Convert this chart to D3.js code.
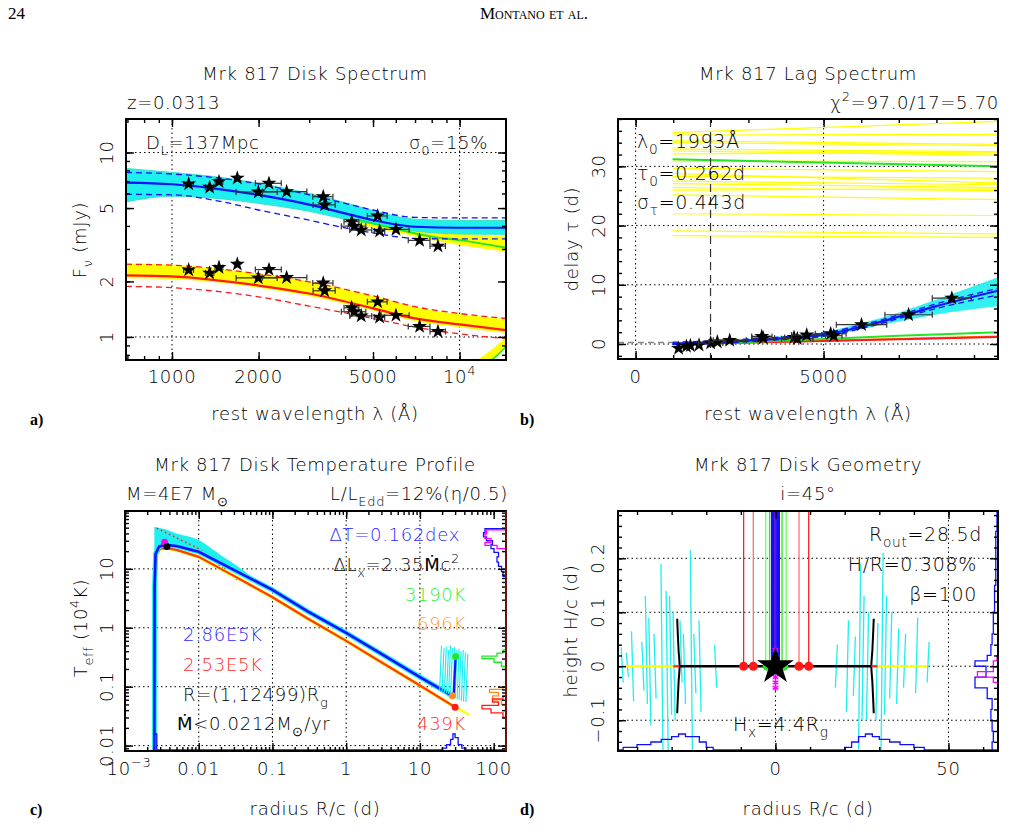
<!DOCTYPE html>
<html>
<head>
<meta charset="utf-8">
<script src="https://cdn.jsdelivr.net/npm/d3@7"></script>
<style>
  body { margin: 0; background: #fff; }
  text { font-family: "DejaVu Sans", sans-serif; font-weight: 300; letter-spacing: 0.7px; }
  text.serif { font-family: "Liberation Serif", "DejaVu Serif", serif; letter-spacing: 0; font-weight: normal; }
</style>
</head>
<body>
<script>

// ---- shared photometric bands (rest wavelength, Å) ----
const lam = [1143,1352,1457,1687,1996,2174,2504,3357,3394,4214,4300,4550,5188,5270,6008,7260,8410];
const lamErr = [45,45,45,30,325,225,440,270,300,250,420,400,410,220,670,630,520];

// ---- a) disk spectrum ----
const fluxTot = [6.76,6.48,6.95,7.26,6.11,6.81,6.14,5.76,5.20,4.22,3.99,3.80,4.53,3.75,3.83,3.34,3.11];
const fluxDisk = [2.31,2.22,2.38,2.48,2.09,2.32,2.10,1.96,1.78,1.44,1.37,1.30,1.55,1.28,1.31,1.14,1.07];
const fitTot = [[692,6.87],[1000,6.73],[1500,6.3],[2000,5.89],[3000,5.22],[4000,4.68],[5000,4.3],[7000,3.96],[10000,3.91],[14500,3.91]];
const fitTotHi = [[692,7.8],[1000,7.65],[2000,6.76],[3000,5.9],[4000,5.3],[5000,4.88],[7000,4.45],[10000,4.42],[14500,4.42]];
const fitTotLo = [[692,5.93],[1000,5.9],[1500,5.4],[2000,4.88],[3000,4.3],[4000,3.9],[5000,3.67],[7000,3.42],[10000,3.4],[14500,3.4]];
const cyanBandA = [[692,5.4,8.2],[1000,5.8,7.8],[1500,5.6,7.3],[2000,5.3,6.8],[3000,4.8,6.0],[4000,4.35,5.35],[5000,4.1,4.85],[7000,3.75,4.35],[10000,3.62,4.28],[14500,3.6,4.28]];
const yellowBandTot = [[4500,4.05,4.45],[6000,3.7,4.1],[8000,3.35,3.8],[10000,3.15,3.65],[14500,2.9,3.5]];
const greenTot = [[4500,4.3],[6000,3.85],[8000,3.5],[10000,3.35],[14500,3.05]];
const fitDisk = [[692,2.16],[1000,2.13],[2000,1.9],[3000,1.72],[5000,1.43],[7000,1.26],[10000,1.17],[14500,1.09]];
const fitDiskHi = [[692,2.48],[1000,2.45],[2000,2.2],[3000,1.99],[5000,1.67],[7000,1.46],[10000,1.34],[14500,1.26]];
const fitDiskLo = [[692,1.88],[1000,1.85],[2000,1.65],[3000,1.47],[5000,1.26],[7000,1.13],[10000,1.04],[14500,0.98]];
const yellowBandDisk = [[692,2.08,2.5],[1000,2.06,2.46],[2000,1.85,2.2],[3000,1.67,2.0],[5000,1.39,1.67],[7000,1.22,1.46],[10000,1.13,1.33],[14500,1.05,1.25]];
const yellowTail = [
  [[11600,0.74],[13000,0.84],[14500,0.97]],
  [[12000,0.74],[13300,0.83],[14500,0.93]],
  [[12400,0.74],[13600,0.82],[14500,0.9]]
];
const greenTail = [[12800,0.74],[13800,0.82],[14500,0.885]];
const aTicksX = [1000,2000,5000,10000];
const aTicksY = [1,2,5,10];

// ---- b) lag spectrum ----
const lagVals = [-0.73,-0.39,-0.28,-0.17,0.17,0.34,0.62,1.29,1.0,1.12,0.9,1.52,1.74,1.40,3.26,4.94,7.75];
const lagErr = [0.3,0.3,0.3,0.3,0.3,0.3,0.4,0.5,0.5,0.6,0.6,0.6,0.7,0.7,0.6,0.7,0.8];
const lagModelRange = [984,9640];
const yellowLags = [[35.7,37.6],[35.3,35.4],[34.3,33.7],[34.0,33.5],[32.9,32.5],[32.6,31.9],[32.1,32.4],[30.9,30.8],[29.7,29.1],[28.8,27.2],[28.3,28.0],[27.5,26.9],[27.1,26.4],[26.4,25.9],[26.0,26.2],[25.2,24.4],[22.0,21.7],[19.1,18.6],[18.3,18.0]];
const greenLagTop = [31.2,30.0];
const lagFit = [[984,0.05],[2000,0.25],[3000,0.6],[4000,1.0],[5000,1.55],[6000,2.9],[7000,4.6],[8000,6.4],[9640,9.0]];
const lagFitHi = [[984,0.3],[2000,0.5],[3000,0.85],[4000,1.25],[5000,1.85],[6000,3.2],[7000,4.9],[8000,6.8],[9640,9.4]];
const lagFitLo = [[984,-0.1],[2000,0.05],[3000,0.4],[4000,0.8],[5000,1.3],[6000,2.6],[7000,4.3],[8000,6.0],[9640,8.3]];
const cyanLagBand = [[984,-0.1,0.3],[3000,0.4,0.9],[4000,0.8,1.35],[5000,1.3,2.0],[6000,2.5,3.5],[7000,3.8,5.3],[8000,5.0,7.5],[9640,6.4,11.3]];
const greenLag = [[984,0],[3000,0.35],[5000,0.85],[7000,1.4],[9640,2.0]];
const orangeLag = [[984,0],[5000,0.55],[9640,1.3]];
const redLag = [[984,0],[5000,0.5],[9640,1.2]];
const lambda0 = 1993, tau0 = 0.262;
const bTicksX = [0,5000];
const bMinorX = [0,1000,2000,3000,4000,5000,6000,7000,8000,9000];
const bTicksY = [0,10,20,30];
const bMinorY = [-2,0,2,4,6,8,10,12,14,16,18,20,22,24,26,28,30,32,34,36,38];

// ---- c) temperature profile ----
const tBlue = [[0.0025,0.0081],[0.00252,5],[0.0026,18],[0.0029,24],[0.0035,25.5],[0.005,24.5],[0.01,19.5],[0.03,9.6],[0.1,4.4],[0.3,1.9],[1,0.82],[3,0.36],[10,0.146],[27.6,0.07]];
const tRed = [[0.0025,0.0081],[0.00252,5],[0.0027,18],[0.003,22],[0.0037,22.5],[0.005,21],[0.01,16],[0.03,7.6],[0.1,3.3],[0.3,1.44],[1,0.6],[3,0.26],[10,0.105],[30,0.045]];
const tYellow = [[30,0.045],[46,0.034]];
const tRedDotted = [[0.0027,49],[0.01,22],[0.0334,6.5]];
const cyanBandC = [[0.0025,20,52],[0.0035,25,47],[0.005,24.5,40],[0.01,19.5,31],[0.02,12.5,17],[0.04,7.8,9.5],[0.06,6.0,6.3]];
const cyanSpikesC = [[18.5,0.085,0.5],[20,0.082,0.45],[21.5,0.08,0.48],[23,0.078,0.42],[24.5,0.075,0.5],[26,0.07,0.45],[28,0.068,0.47],[30,0.065,0.42],[32,0.062,0.44],[34,0.06,0.4],[36.5,0.058,0.42],[39,0.056,0.38],[42,0.055,0.36]];
const peakMagenta = [0.00344,28.3], peakBlack = [0.0037,24];
const outerGreen = [30.5,0.327], outerOrange = [27.6,0.070], outerRed = [30,0.045];
const histBlueC = [[7.5,0],[9,2],[11,3],[13,5],[16,6],[19,5],[22,8],[26,10],[30,9],[35,13],[41,15],[48,14],[56,0]];
const histMagentaC = [[22,0],[25,6],[28,14],[33,10],[39,14],[46,13],[54,0]];
const histGreenC = [[0.22,0],[0.26,3],[0.3,8],[0.33,16],[0.37,6],[0.42,2],[0.48,0]];
const histOrangeC = [[0.05,0],[0.06,3],[0.07,9],[0.08,5],[0.09,11],[0.1,2],[0.11,0]];
const histRedC = [[0.03,0],[0.036,2],[0.042,10],[0.048,16],[0.055,5],[0.062,9],[0.07,2],[0.08,0]];
const histBottomC = [[0.0025,9],[0.0027,0],[18,0],[20,1],[23,3],[26,6],[28,9],[30,7],[33,3],[37,1],[42,0],[147,0]];
const cTicksX = [0.001,0.01,0.1,1,10,100];
const cTicksY = [0.01,0.1,1,10];

// ---- d) disk geometry ----
const diskEdge = [-27.7,27.7];
const outerYellow = [[-43.5,-27.7],[27.7,43.8]];
const flareD = [[28.4,-0.087],[28.0,-0.03],[27.7,0],[28.0,0.03],[28.4,0.088]];
const spikesD = [
  [-44.0,0.035,-0.03],[-42.5,0.025,-0.02],[-41.0,0.065,-0.065],[-38.0,0.045,-0.045],[-37.0,0.13,-0.07],
  [-36.0,0.09,-0.11],[-34.5,0.06,-0.06],[-32.5,0.19,-0.16],[-31.0,0.14,-0.16],[-30.0,0.13,-0.09],
  [-29.0,0.1,-0.1],[-27.0,0.085,-0.03],[-26.0,0.06,-0.07],[-24.0,0.215,-0.16],[-23.0,0.06,-0.05],
  [-21.5,0.085,-0.085],[-17.0,0.04,-0.04],
  [17.3,0.04,-0.04],[20.5,0.085,-0.085],[22.5,0.055,-0.055],[24.0,0.19,-0.16],[25.0,0.13,-0.1],
  [26.3,0.1,-0.1],[29.0,0.08,-0.1],[30.5,0.21,-0.16],[31.5,0.13,-0.09],[33.0,0.1,-0.06],
  [35.0,0.07,-0.07],[37.0,0.06,-0.04],[40.5,0.09,-0.05],[43.8,0.045,-0.03]
];
const redRadiiD = [-9.2,-6.4,6.8,9.6];
const greenRadiiD = [-2.8,-1.7,1.9,3.1];
const centerRadiiD = [-1.0,-0.5,0,0.5,1.0];
const greenDotsD = [-2.4,-1.2,1.2,2.4];
const magentaMarksD = [-0.01,-0.02,-0.03,-0.04,0.015,0.03];
const histBottomD = [[-45.5,0],[-44,1],[-40,2],[-36,3],[-33,4],[-30,5],[-28,6],[-26,5],[-24,5],[-22,3],[-20,1],[-18,0],[18,0],[20,1],[22,3],[24,5],[26,6],[28,5],[30,4],[33,3],[36,2],[40,1],[43,0],[64.3,0]];
const histRightD = [[-0.157,3],[-0.14,4],[-0.12,3],[-0.1,4],[-0.08,5],[-0.06,4],[-0.04,8],[-0.02,18],[-0.01,9],[0.0,9],[0.01,18],[0.02,8],[0.04,5],[0.06,4],[0.08,3],[0.1,3],[0.12,2],[0.15,2],[0.2,1],[0.25,1],[0.2876,0]];
const histMagentaD = [[-0.03,0],[-0.02,3],[-0.01,16],[0.01,3],[0.02,0]];
const dTicksX = [0,50];
const dMinorX = [-40,-30,-20,-10,0,10,20,30,40,50,60];
const dTicksY = [-0.1,0,0.1,0.2];
const dMinorY = [-0.14,-0.12,-0.1,-0.08,-0.06,-0.04,-0.02,0,0.02,0.04,0.06,0.08,0.1,0.12,0.14,0.16,0.18,0.2,0.22,0.24,0.26,0.28];

const C = { blue:"#1010ff", cyan:"#1ef0f0", yellow:"#ffff00", green:"#22e622", red:"#ff1a1a", orange:"#ff8c1a", magenta:"#ff00ff" };

const svg = d3.select("body").append("svg").attr("width",1028).attr("height",836);

// text with sub/superscript pieces; "w" = regular weight (for glyphs the light face lacks)
function rich(g, x, y, parts, o = {}) {
  const size = o.size || 18;
  const t = g.append("text").attr("x",x).attr("y",y)
    .attr("font-size",size).attr("fill",o.fill || "#000")
    .attr("text-anchor",o.anchor || "start");
  if (o.rotate) t.attr("transform",`rotate(${o.rotate},${x},${y})`);
  let shift = 0;
  parts.forEach(p => {
    const [s, kind] = Array.isArray(p) ? p : [p, "n"];
    const target = kind === "sub" ? 6 : kind === "sup" ? -8 : 0;
    const ts = t.append("tspan").attr("dy",target - shift)
      .attr("font-size",(kind === "sub" || kind === "sup") ? size * 0.72 : null).text(s);
    if (kind === "w") ts.style("font-weight","400");
    shift = target;
  });
  return t;
}

function frame(g, P, x, y, xt, yt) {
  const inDom = (sc, vals) => {
    const [a, b] = d3.extent(sc.domain());
    return vals.filter(v => v >= a - 1e-9 && v <= b + 1e-9);
  };
  const sides = [[d3.axisBottom,x,P.b,"h"],[d3.axisTop,x,P.t,"h"],[d3.axisLeft,y,P.l,"v"],[d3.axisRight,y,P.r,"v"]];
  sides.forEach(([mk, sc, pos, dir]) => {
    const t = dir === "h" ? xt : yt;
    [[t.minor,4],[t.major,8]].forEach(([vals,len]) => {
      const a = g.append("g")
        .attr("transform",dir === "h" ? `translate(0,${pos})` : `translate(${pos},0)`)
        .call(mk(sc).tickValues(inDom(sc,vals)).tickSize(-len).tickFormat(""));
      a.select(".domain").remove();
      a.selectAll("line").attr("stroke","#000").attr("stroke-width",1.4);
    });
  });
  g.append("rect").attr("x",P.l).attr("y",P.t).attr("width",P.r - P.l).attr("height",P.b - P.t)
    .attr("fill","none").attr("stroke","#000").attr("stroke-width",2);
}

function grid(g, P, x, y, xs, ys) {
  xs.forEach(v => g.append("line").attr("x1",x(v)).attr("x2",x(v)).attr("y1",P.t).attr("y2",P.b)
    .attr("stroke","#000").attr("stroke-width",1).attr("stroke-dasharray","1.5,3"));
  ys.forEach(v => g.append("line").attr("x1",P.l).attr("x2",P.r).attr("y1",y(v)).attr("y2",y(v))
    .attr("stroke","#000").attr("stroke-width",1).attr("stroke-dasharray","1.5,3"));
}

function clipped(id, P) {
  svg.append("clipPath").attr("id",id).append("rect")
    .attr("x",P.l).attr("y",P.t).attr("width",P.r - P.l).attr("height",P.b - P.t);
  return svg.append("g").attr("clip-path",`url(#${id})`);
}

function hbar(g, x, l, e, yy) {
  g.append("line").attr("x1",x(l - e)).attr("x2",x(l + e)).attr("y1",yy).attr("y2",yy)
    .attr("stroke","#333").attr("stroke-width",1.2);
  [l - e, l + e].forEach(v => g.append("line").attr("x1",x(v)).attr("x2",x(v))
    .attr("y1",yy - 3).attr("y2",yy + 3).attr("stroke","#333").attr("stroke-width",1.2));
}

const star = d3.symbol(d3.symbolStar, 70);

// header
svg.append("text").attr("class","serif").attr("x",8).attr("y",19).attr("font-size",17).text("24");
svg.append("text").attr("class","serif").attr("x",534).attr("y",19).attr("font-size",17)
  .attr("text-anchor","middle").style("font-variant","small-caps").text("Montano et al.");

// panel letters
[["a)",30,425],["b)",520,425],["c)",30,815],["d)",520,815]].forEach(([s,x,y]) =>
  svg.append("text").attr("class","serif").attr("x",x).attr("y",y).attr("font-size",16)
    .style("font-weight","bold").text(s));

// ================= a) =================
{
  const P = {l:126, r:506, t:119, b:360};
  const x = d3.scaleLog().domain([692,14500]).range([P.l,P.r]);
  const y = d3.scaleLog().domain([0.75,15.2]).range([P.b,P.t]);
  grid(svg.append("g"),P,x,y,[1000,10000],[1,10]);
  const c = clipped("clipA",P);
  const g = svg.append("g");
  const line = d3.line().x(d => x(d[0])).y(d => y(d[1])).curve(d3.curveMonotoneX);
  const band = d3.area().x(d => x(d[0])).y0(d => y(d[1])).y1(d => y(d[2])).curve(d3.curveMonotoneX);

  c.append("path").attr("d",band(yellowBandTot)).attr("fill",C.yellow);
  c.append("path").attr("d",band(cyanBandA)).attr("fill",C.cyan);
  [cyanBandA.map(d => [d[0],d[1]]), cyanBandA.map(d => [d[0],d[2]])].forEach(l =>
    c.append("path").attr("d",line(l)).attr("fill","none").attr("stroke","#40e0c0").attr("stroke-width",1));
  c.append("path").attr("d",line(greenTot)).attr("fill","none").attr("stroke",C.green).attr("stroke-width",2);
  c.append("path").attr("d",line(fitTot)).attr("fill","none").attr("stroke",C.blue).attr("stroke-width",2.2);
  [fitTotHi,fitTotLo].forEach(l => c.append("path").attr("d",line(l)).attr("fill","none")
    .attr("stroke",C.blue).attr("stroke-width",1.3).attr("stroke-dasharray","6,4"));

  c.append("path").attr("d",band(yellowBandDisk)).attr("fill",C.yellow);
  c.append("path").attr("d",line(fitDisk)).attr("fill","none").attr("stroke",C.red).attr("stroke-width",2.2);
  [fitDiskHi,fitDiskLo].forEach(l => c.append("path").attr("d",line(l)).attr("fill","none")
    .attr("stroke",C.red).attr("stroke-width",1.3).attr("stroke-dasharray","6,4"));
  yellowTail.forEach(l => c.append("path").attr("d",line(l)).attr("fill","none").attr("stroke",C.yellow).attr("stroke-width",3));
  c.append("path").attr("d",line(greenTail)).attr("fill","none").attr("stroke",C.green).attr("stroke-width",1.5);

  [fluxTot,fluxDisk].forEach(fl => {
    lam.forEach((l,i) => {
      const yy = y(fl[i]);
      hbar(g,x,l,lamErr[i],yy);
      g.append("path").attr("d",star()).attr("transform",`translate(${x(l)},${yy})`).attr("fill","#000");
    });
  });

  frame(g,P,x,y,{major:aTicksX,minor:x.ticks()},{major:aTicksY,minor:y.ticks()});
  aTicksX.forEach(v => {
    if (v === 10000) rich(g,x(v),383,["10",["4","sup"]],{anchor:"middle"});
    else rich(g,x(v),383,[String(v)],{anchor:"middle"});
  });
  aTicksY.forEach(v => rich(g,113,y(v),[String(v)],{anchor:"middle",rotate:-90}));

  rich(g,315,80,["Mrk 817 Disk Spectrum"],{anchor:"middle"});
  rich(g,127,109,["z=0.0313"]);
  rich(g,146,149,["D",["L","sub"],"=137Mpc"]);
  rich(g,488,149,["σ",["0","sub"],"=15%"],{anchor:"end"});
  rich(g,315,420,["rest wavelength λ (Å)"],{anchor:"middle"});
  rich(g,86,240,["F",["ν","sub"]," (mJy)"],{anchor:"middle",rotate:-90});
}

// ================= b) =================
{
  const P = {l:618, r:998, t:119, b:359};
  const x = d3.scaleLinear().domain([-468,9638]).range([P.l,P.r]);
  const y = d3.scaleLinear().domain([-2.53,38]).range([P.b,P.t]);
  grid(svg.append("g"),P,x,y,[0,5000],[0,10,20,30]);
  const c = clipped("clipB",P);
  const g = svg.append("g");
  const line = d3.line().x(d => x(d[0])).y(d => y(d[1])).curve(d3.curveMonotoneX);
  const band = d3.area().x(d => x(d[0])).y0(d => y(d[1])).y1(d => y(d[2])).curve(d3.curveMonotoneX);
  const [m0, m1] = lagModelRange;

  yellowLags.forEach(([a,b]) => c.append("line").attr("x1",x(m0)).attr("x2",x(m1)).attr("y1",y(a)).attr("y2",y(b))
    .attr("stroke",C.yellow).attr("stroke-width",1.2));
  c.append("line").attr("x1",x(m0)).attr("x2",x(m1)).attr("y1",y(greenLagTop[0])).attr("y2",y(greenLagTop[1]))
    .attr("stroke",C.green).attr("stroke-width",2);

  c.append("line").attr("x1",x(lambda0)).attr("x2",x(lambda0)).attr("y1",P.t).attr("y2",P.b)
    .attr("stroke","#333").attr("stroke-width",1.2).attr("stroke-dasharray","8,5");
  c.append("line").attr("x1",P.l).attr("x2",x(m0)).attr("y1",y(tau0)).attr("y2",y(tau0))
    .attr("stroke","#888").attr("stroke-width",1.5).attr("stroke-dasharray","6,4");

  c.append("path").attr("d",band(cyanLagBand)).attr("fill",C.cyan).attr("opacity",0.9);
  c.append("path").attr("d",line(orangeLag)).attr("fill","none").attr("stroke",C.orange).attr("stroke-width",2);
  c.append("path").attr("d",line(redLag)).attr("fill","none").attr("stroke",C.red).attr("stroke-width",2);
  c.append("path").attr("d",line(greenLag)).attr("fill","none").attr("stroke",C.green).attr("stroke-width",2);
  [lagFitHi,lagFitLo].forEach(l => c.append("path").attr("d",line(l)).attr("fill","none")
    .attr("stroke",C.blue).attr("stroke-width",1.3).attr("stroke-dasharray","6,4"));
  c.append("path").attr("d",line(lagFit)).attr("fill","none").attr("stroke",C.blue).attr("stroke-width",2.2);

  lam.forEach((l,i) => {
    const xx = x(l), yy = y(lagVals[i]);
    hbar(g,x,l,lamErr[i],yy);
    g.append("line").attr("x1",xx).attr("x2",xx).attr("y1",y(lagVals[i] - lagErr[i])).attr("y2",y(lagVals[i] + lagErr[i]))
      .attr("stroke","#333").attr("stroke-width",1.2);
    g.append("path").attr("d",star()).attr("transform",`translate(${xx},${yy})`).attr("fill","#000");
  });

  frame(g,P,x,y,{major:bTicksX,minor:bMinorX},{major:bTicksY,minor:bMinorY});
  bTicksX.forEach(v => rich(g,x(v),383,[String(v)],{anchor:"middle"}));
  bTicksY.forEach(v => rich(g,605,y(v),[String(v)],{anchor:"middle",rotate:-90}));

  rich(g,808,80,["Mrk 817 Lag Spectrum"],{anchor:"middle"});
  rich(g,999,109,["χ",["2","sup"],"=97.0/17=5.70"],{anchor:"end"});
  rich(g,637,148,["λ",["0","sub"],"=1993Å"],{size:19});
  rich(g,637,180,["τ",["0","sub"],"=0.262d"],{size:19});
  rich(g,637,209,["σ",["τ","sub"],"=0.443d"],{size:19});
  rich(g,808,420,["rest wavelength λ (Å)"],{anchor:"middle"});
  rich(g,578,239,["delay τ (d)"],{anchor:"middle",rotate:-90});
}

// ================= c) =================
{
  const P = {l:125, r:506, t:511, b:751};
  const x = d3.scaleLog().domain([0.001,147]).range([P.l,P.r]);
  const y = d3.scaleLog().domain([0.0081,96]).range([P.b,P.t]);
  grid(svg.append("g"),P,x,y,[0.01,0.1,1,10],[0.01,0.1,1,10]);
  const c = clipped("clipC",P);
  const g = svg.append("g");
  const line = d3.line().x(d => x(d[0])).y(d => y(d[1]));
  const band = d3.area().x(d => x(d[0])).y0(d => y(d[1])).y1(d => y(d[2])).curve(d3.curveMonotoneX);

  c.append("path").attr("d",band(cyanBandC)).attr("fill",C.cyan);
  c.append("path").attr("d",line(tRedDotted)).attr("fill","none").attr("stroke",C.red).attr("stroke-width",1.5).attr("stroke-dasharray","1.5,3");
  c.append("path").attr("d",line(tYellow)).attr("fill","none").attr("stroke",C.yellow).attr("stroke-width",2.5);
  c.append("path").attr("d",line(tRed)).attr("fill","none").attr("stroke",C.yellow).attr("stroke-width",3.5);
  c.append("path").attr("d",line(tRed)).attr("fill","none").attr("stroke","#ff3a10").attr("stroke-width",2.2);
  c.append("path").attr("d",line(tBlue)).attr("fill","none").attr("stroke",C.cyan).attr("stroke-width",5);
  c.append("path").attr("d",line(tBlue)).attr("fill","none").attr("stroke",C.blue).attr("stroke-width",2.6);

  cyanSpikesC.forEach(([r,lo,hi]) => c.append("line").attr("x1",x(r)).attr("x2",x(r * 1.06))
    .attr("y1",y(lo)).attr("y2",y(hi)).attr("stroke",C.cyan).attr("stroke-width",1.2));
  c.append("line").attr("x1",x(outerOrange[0] * 1.04)).attr("x2",x(outerGreen[0])).attr("y1",y(outerOrange[1])).attr("y2",y(outerGreen[1]))
    .attr("stroke",C.blue).attr("stroke-width",2.2);

  [[peakMagenta,C.magenta],[peakBlack,"#000"],[outerGreen,C.green],[outerOrange,C.orange],[outerRed,C.red]].forEach(([p,col]) =>
    c.append("circle").attr("cx",x(p[0])).attr("cy",y(p[1])).attr("r",3.5).attr("fill",col));

  // right-edge histograms of temperature
  const hx = d3.scaleLinear().domain([0,16]).range([P.r,P.r - 24]);
  const hline = d3.line().x(d => hx(d[1])).y(d => y(d[0])).curve(d3.curveStepAfter);
  [[histBlueC,C.blue],[histMagentaC,C.magenta],[histGreenC,C.green],[histOrangeC,C.orange],[histRedC,C.red]].forEach(([h,col]) =>
    c.append("path").attr("d",hline(h)).attr("fill","none").attr("stroke",col).attr("stroke-width",1.3));
  // bottom histogram of radius
  const hy = d3.scaleLinear().domain([0,9]).range([P.b - 1,P.b - 17]);
  c.append("path").attr("d",d3.line().x(d => x(d[0])).y(d => hy(d[1])).curve(d3.curveStepAfter)(histBottomC))
    .attr("fill","none").attr("stroke",C.blue).attr("stroke-width",1.3);

  frame(g,P,x,y,{major:cTicksX,minor:x.ticks()},{major:cTicksY,minor:y.ticks()});
  g.append("line").attr("x1",P.r).attr("x2",P.r).attr("y1",P.t).attr("y2",P.b).attr("stroke","#6b1010").attr("stroke-width",2);
  cTicksX.forEach(v => {
    if (v === 0.001) rich(g,x(v) + 4,775,["10",["−3","sup"]],{anchor:"middle"});
    else rich(g,x(v),775,[String(v)],{anchor:"middle"});
  });
  cTicksY.forEach(v => rich(g,113,y(v),[String(v)],{anchor:"middle",rotate:-90}));

  rich(g,315,471,["Mrk 817 Disk Temperature Profile"],{anchor:"middle"});
  rich(g,126,500,["M=4E7 M",["⊙","sub"]]);
  rich(g,508,500,["L/L",["Edd","sub"],"=12%(η/0.5)"],{anchor:"end"});
  rich(g,460,541,["ΔT=0.162dex"],{anchor:"end",fill:"#2a2aff"});
  rich(g,460,571,["ΔL",["x","sub"],"=2.35",["Ṁ","w"],"c",["2","sup"]],{anchor:"end"});
  rich(g,466,601,["3190K"],{anchor:"end",fill:"#33ee33"});
  rich(g,466,630,["696K"],{anchor:"end",fill:"#ff9933"});
  rich(g,466,730,["439K"],{anchor:"end",fill:"#ff2a2a"});
  rich(g,183,641,["2.86E5K"],{fill:"#2a2aff"});
  rich(g,183,671,["2.53E5K"],{fill:"#ff2a2a"});
  rich(g,183,701,["R=(1,12499)R",["g","sub"]]);
  rich(g,177,730,[["Ṁ","w"],"<0.0212M",["⊙","sub"],"/yr"]);
  rich(g,315,815,["radius R/c (d)"],{anchor:"middle"});
  rich(g,87,628,["T",["eff","sub"]," (10",["4","sup"],"K)"],{anchor:"middle",rotate:-90});
}

// ================= d) =================
{
  const P = {l:618, r:998, t:511, b:751};
  const x = d3.scaleLinear().domain([-45.5,64.3]).range([P.l,P.r]);
  const y = d3.scaleLinear().domain([-0.157,0.2876]).range([P.b,P.t]);
  grid(svg.append("g"),P,x,y,[0,50],[-0.1,0,0.1,0.2]);
  const c = clipped("clipD",P);
  const g = svg.append("g");

  spikesD.forEach(([r,top,bot]) => c.append("line").attr("x1",x(r)).attr("x2",x(r + Math.sign(r) * 0.6))
    .attr("y1",y(bot)).attr("y2",y(top)).attr("stroke",C.cyan).attr("stroke-width",1.3));

  outerYellow.forEach(([a,b]) => c.append("line").attr("x1",x(a)).attr("x2",x(b)).attr("y1",y(0)).attr("y2",y(0))
    .attr("stroke",C.yellow).attr("stroke-width",2));
  c.append("line").attr("x1",x(diskEdge[0])).attr("x2",x(diskEdge[1])).attr("y1",y(0)).attr("y2",y(0))
    .attr("stroke","#000").attr("stroke-width",2.4);
  [1,-1].forEach(s => {
    c.append("path").attr("d",d3.line().x(d => x(s * d[0])).y(d => y(d[1])).curve(d3.curveCatmullRom)(flareD))
      .attr("fill","none").attr("stroke","#000").attr("stroke-width",2);
    c.append("line").attr("x1",x(s * 27.7)).attr("x2",x(s * 29.5)).attr("y1",y(0)).attr("y2",y(0))
      .attr("stroke",C.red).attr("stroke-width",2);
  });

  redRadiiD.forEach(r => c.append("line").attr("x1",x(r)).attr("x2",x(r)).attr("y1",y(0)).attr("y2",P.t)
    .attr("stroke",Math.abs(r) > 8 ? "#ff2020" : "#ff7070").attr("stroke-width",1.3));
  greenRadiiD.forEach(r => c.append("line").attr("x1",x(r)).attr("x2",x(r)).attr("y1",y(0)).attr("y2",P.t)
    .attr("stroke",Math.abs(r) > 2.5 ? "#66ff66" : C.green).attr("stroke-width",1.3));
  centerRadiiD.forEach(r => c.append("line").attr("x1",x(r)).attr("x2",x(r)).attr("y1",y(0)).attr("y2",P.t)
    .attr("stroke",r === 0 ? "#8a00d0" : C.blue).attr("stroke-width",2.2));
  redRadiiD.forEach(r => c.append("circle").attr("cx",x(r)).attr("cy",y(0)).attr("r",4.5).attr("fill",C.red));
  greenDotsD.forEach(r => c.append("circle").attr("cx",x(r)).attr("cy",y(0)).attr("r",4.5).attr("fill",C.green));
  const ast = d3.symbol(d3.symbolAsterisk || d3.symbolCross, 30);
  magentaMarksD.forEach(h => c.append("path").attr("d",ast()).attr("transform",`translate(${x(0)},${y(h)})`)
    .attr("fill","none").attr("stroke",C.magenta).attr("stroke-width",1.5));
  c.append("path").attr("d",d3.symbol(d3.symbolStar,420)()).attr("transform",`translate(${x(0)},${y(0)})`).attr("fill","#000");

  const hy = d3.scaleLinear().domain([0,6]).range([P.b - 1,P.b - 17]);
  c.append("path").attr("d",d3.line().x(d => x(d[0])).y(d => hy(d[1])).curve(d3.curveStepAfter)(histBottomD))
    .attr("fill","none").attr("stroke",C.blue).attr("stroke-width",1.3);
  const hx = d3.scaleLinear().domain([0,18]).range([P.r - 1,P.r - 23]);
  const hline = d3.line().x(d => hx(d[1])).y(d => y(d[0])).curve(d3.curveStepAfter);
  c.append("path").attr("d",hline(histRightD)).attr("fill","none").attr("stroke",C.blue).attr("stroke-width",1.3);
  c.append("path").attr("d",hline(histMagentaD)).attr("fill","none").attr("stroke",C.magenta).attr("stroke-width",1.3);

  frame(g,P,x,y,{major:dTicksX,minor:dMinorX},{major:dTicksY,minor:dMinorY});
  dTicksX.forEach(v => rich(g,x(v),775,[String(v)],{anchor:"middle"}));
  dTicksY.forEach(v => rich(g,604,y(v),[v < 0 ? "−" + Math.abs(v) : String(v)],{anchor:"middle",rotate:-90}));

  rich(g,808,471,["Mrk 817 Disk Geometry"],{anchor:"middle"});
  rich(g,808,500,["i=45°"],{anchor:"middle"});
  rich(g,982,541,["R",["out","sub"],"=28.5d"],{anchor:"end",size:19});
  rich(g,977,571,["H/R=0.308%"],{anchor:"end",size:19});
  rich(g,977,601,["β=100"],{anchor:"end",size:19});
  rich(g,733,731,["H",["x","sub"],"=4.4R",["g","sub"]],{size:19});
  rich(g,808,815,["radius R/c (d)"],{anchor:"middle"});
  rich(g,577,631,["height H/c (d)"],{anchor:"middle",rotate:-90});
}
</script>
</body>
</html>
